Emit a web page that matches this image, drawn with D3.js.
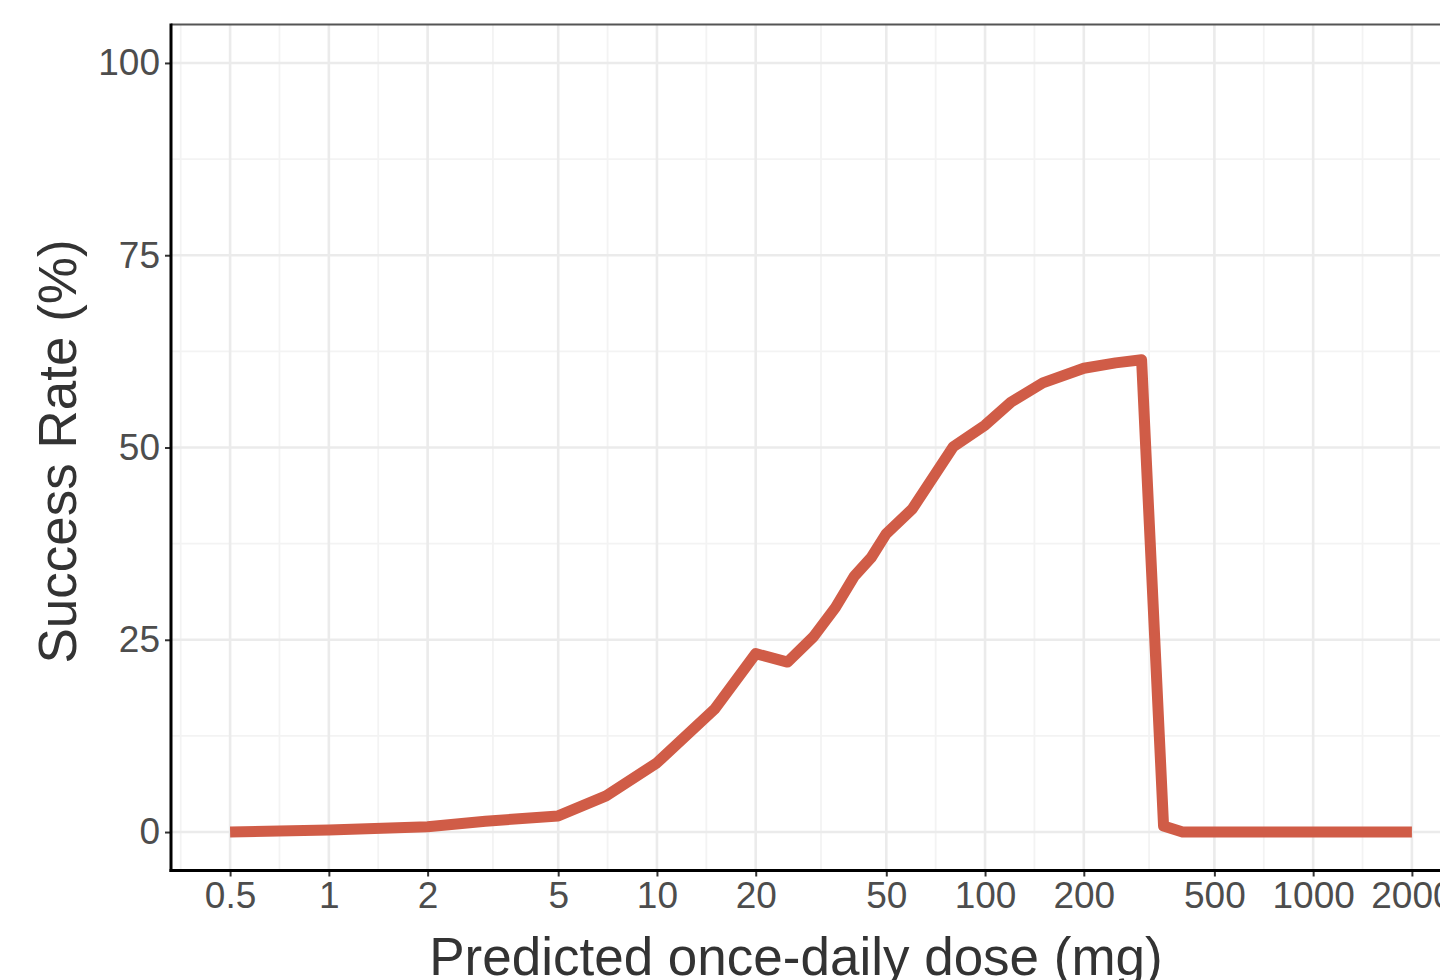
<!DOCTYPE html>
<html>
<head>
<meta charset="utf-8">
<script src="https://cdn.jsdelivr.net/npm/d3@7"></script>
<style>
  body { margin: 0; background: #fff; overflow: hidden; }
  svg { display: block; }
  text { font-family: "Liberation Sans", Arial, sans-serif; }
</style>
</head>
<body>
<script>
  // dose (mg) and success rate (%)
  var doses = [0.5, 1, 2, 3, 5, 7, 10, 15, 20, 25, 30, 35, 40, 45, 50, 60, 80, 100,
               120, 150, 200, 250, 300, 350, 400, 500, 1000, 2000];
  var rates = [0, 0.25, 0.7, 1.4, 2.1, 4.7, 9.0, 16.0, 23.2, 22.1, 25.4, 29.2, 33.3, 35.7,
               38.8, 42.0, 50.1, 52.9, 55.9, 58.4, 60.3, 61.0, 61.4, 0.8, 0, 0, 0, 0];

  var xBreaks = [0.5, 1, 2, 5, 10, 20, 50, 100, 200, 500, 1000, 2000];
  var yBreaks = [0, 25, 50, 75, 100];

  var width = 1440, height = 980;
  var panel = {left: 171, right: 1471, top: 24.5, bottom: 870.5};

  var svg = d3.select("body").append("svg")
    .attr("width", width)
    .attr("height", height);

  // log x with 5% expansion in log space, like ggplot
  var lo = Math.log10(0.5), hi = Math.log10(2000), pad = (hi - lo) * 0.05;
  var x = d3.scaleLog()
    .domain([Math.pow(10, lo - pad), Math.pow(10, hi + pad)])
    .range([panel.left, panel.right]);

  var y = d3.scaleLinear()
    .domain([-5, 105])
    .range([panel.bottom, panel.top]);

  // minor breaks: midpoints of majors in transformed space
  var lx = xBreaks.map(function(d) { return Math.log10(d); });
  var xMinor = [lx[0] - (lx[1] - lx[0]) / 2];
  for (var i = 0; i < lx.length - 1; i++) xMinor.push((lx[i] + lx[i + 1]) / 2);
  xMinor = xMinor.map(function(d) { return Math.pow(10, d); });
  var yMinor = [12.5, 37.5, 62.5, 87.5];

  var grid = svg.append("g");

  grid.selectAll(".xminor").data(xMinor).enter().append("line")
    .attr("x1", x).attr("x2", x)
    .attr("y1", panel.top).attr("y2", panel.bottom)
    .attr("stroke", "#f3f3f3").attr("stroke-width", 1.8);

  grid.selectAll(".yminor").data(yMinor).enter().append("line")
    .attr("x1", panel.left).attr("x2", panel.right)
    .attr("y1", y).attr("y2", y)
    .attr("stroke", "#f3f3f3").attr("stroke-width", 1.8);

  grid.selectAll(".xmajor").data(xBreaks).enter().append("line")
    .attr("x1", x).attr("x2", x)
    .attr("y1", panel.top).attr("y2", panel.bottom)
    .attr("stroke", "#ebebeb").attr("stroke-width", 2.6);

  grid.selectAll(".ymajor").data(yBreaks).enter().append("line")
    .attr("x1", panel.left).attr("x2", panel.right)
    .attr("y1", y).attr("y2", y)
    .attr("stroke", "#ebebeb").attr("stroke-width", 2.6);

  // curve
  var line = d3.line()
    .x(function(d, i) { return x(doses[i]); })
    .y(function(d) { return y(d); });

  svg.append("path")
    .datum(rates)
    .attr("d", line)
    .attr("fill", "none")
    .attr("stroke", "#d05c47")
    .attr("stroke-width", 11)
    .attr("stroke-linejoin", "round")
    .attr("stroke-linecap", "butt");

  // panel border top
  svg.append("line")
    .attr("x1", panel.left).attr("x2", panel.right)
    .attr("y1", panel.top).attr("y2", panel.top)
    .attr("stroke", "#555").attr("stroke-width", 2);

  // axes
  var xAxis = d3.axisBottom(x)
    .tickValues(xBreaks)
    .tickFormat(function(d) { return String(d); })
    .tickSize(6).tickPadding(5);

  var gx = svg.append("g")
    .attr("transform", "translate(0," + panel.bottom + ")")
    .call(xAxis);
  gx.select(".domain").remove();
  gx.selectAll(".tick line").attr("stroke", "#333").attr("stroke-width", 2);
  gx.selectAll(".tick text")
    .attr("fill", "#4d4d4d")
    .style("font-size", "37px");

  var yAxis = d3.axisLeft(y)
    .tickValues(yBreaks)
    .tickSize(6).tickPadding(5);

  var gy = svg.append("g")
    .attr("transform", "translate(" + panel.left + ",0)")
    .call(yAxis);
  gy.select(".domain").remove();
  gy.selectAll(".tick line").attr("stroke", "#333").attr("stroke-width", 2);
  gy.selectAll(".tick text")
    .attr("fill", "#4d4d4d")
    .style("font-size", "37px");

  // axis lines
  svg.append("line")
    .attr("x1", panel.left).attr("x2", panel.left)
    .attr("y1", panel.top - 1).attr("y2", panel.bottom + 1.5)
    .attr("stroke", "#000").attr("stroke-width", 3);
  svg.append("line")
    .attr("x1", panel.left - 1.5).attr("x2", panel.right)
    .attr("y1", panel.bottom).attr("y2", panel.bottom)
    .attr("stroke", "#000").attr("stroke-width", 3);

  // titles
  svg.append("text")
    .attr("x", 796).attr("y", 975)
    .attr("text-anchor", "middle")
    .attr("fill", "#333")
    .style("font-size", "53px")
    .text("Predicted once-daily dose (mg)");

  svg.append("text")
    .attr("transform", "translate(76," + ((panel.top + panel.bottom) / 2 + 4) + ") rotate(-90)")
    .attr("text-anchor", "middle")
    .attr("fill", "#333")
    .style("font-size", "53px")
    .text("Success Rate (%)");
</script>
</body>
</html>
